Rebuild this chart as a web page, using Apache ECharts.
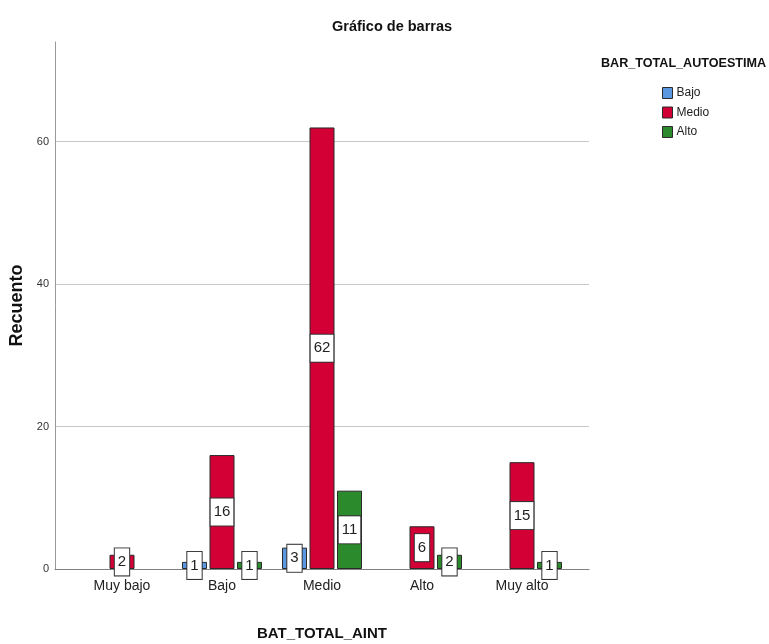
<!DOCTYPE html>
<html>
<head>
<meta charset="utf-8">
<script src="https://cdn.jsdelivr.net/npm/echarts@6/dist/echarts.min.js"></script>
<style>html,body{margin:0;padding:0;background:#fff;}#c{width:769px;height:644px;}</style>
</head>
<body>
<div id="c"></div>
<script>
const categories = ['Muy bajo', 'Bajo', 'Medio', 'Alto', 'Muy alto'];
const seriesNames = ['Bajo', 'Medio', 'Alto'];
const bajoValues = [null, 1, 3, null, null];
const medioValues = [2, 16, 62, 6, 15];
const altoValues = [null, 1, 11, 2, 1];
const yTicks = [0, 20, 40, 60];
const yMax = 74;
const colors = ['#5a97e0', '#d20034', '#2b8a2b'];

const FONT = "'Liberation Sans', Arial, sans-serif";
const chart = echarts.init(document.getElementById('c'), null, {renderer: 'canvas'});

const allValues = [bajoValues, medioValues, altoValues];
const series = seriesNames.map((name, i) => ({
  name: name,
  type: 'bar',
  xAxisIndex: 0,
  yAxisIndex: 0,
  barWidth: 25,
  barGap: '10%',
  data: allValues[i],
  itemStyle: {color: colors[i], borderColor: '#2a2a2a', borderWidth: 1},
  label: {
    show: true,
    position: 'inside',
    fontFamily: FONT,
    fontSize: 15,
    color: '#222',
    backgroundColor: '#fff',
    borderColor: '#333',
    borderWidth: 1,
    padding: [5, 3],
    lineHeight: 17
  },
  emphasis: {disabled: true}
}));

const option = {
  animation: false,
  textStyle: {fontFamily: FONT},
  title: [
    {text: 'Gráfico de barras', left: 327, top: 14,
     textStyle: {fontFamily: FONT, fontSize: 14.5, fontWeight: 'bold', color: '#111'}},
    {text: 'BAR_TOTAL_AUTOESTIMA', left: 596, top: 52,
     textStyle: {fontFamily: FONT, fontSize: 12.6, fontWeight: 'bold', color: '#111'}}
  ],
  legend: {
    orient: 'vertical',
    left: 657,
    top: 82,
    itemWidth: 10,
    itemHeight: 11,
    itemGap: 7.5,
    icon: 'rect',
    data: seriesNames,
    itemStyle: {borderColor: '#2a2a2a', borderWidth: 1},
    textStyle: {fontFamily: FONT, fontSize: 12, color: '#222', padding: [0, 0, 0, -1]}
  },
  grid: [
    {left: 72, right: 197, top: 42, bottom: 75, containLabel: false, outerBoundsMode: 'none'},
    {left: 55, right: 180, top: 42, bottom: 75, containLabel: false, outerBoundsMode: 'none'}
  ],
  xAxis: [
    {
      gridIndex: 0,
      type: 'category',
      data: categories,
      axisLine: {show: false},
      axisTick: {show: false},
      axisLabel: {fontFamily: FONT, fontSize: 14, color: '#222', margin: 10}
    },
    {
      gridIndex: 1,
      type: 'value',
      min: 0,
      max: 1,
      axisLine: {show: true, lineStyle: {color: '#808080', width: 1}},
      axisTick: {show: false},
      axisLabel: {show: false},
      splitLine: {show: false},
      name: 'BAT_TOTAL_AINT',
      nameLocation: 'middle',
      nameGap: 57,
      nameTextStyle: {fontFamily: FONT, fontSize: 15, fontWeight: 'bold', color: '#111'}
    }
  ],
  yAxis: [
    {
      gridIndex: 0,
      type: 'value',
      min: 0,
      max: yMax,
      show: false
    },
    {
      gridIndex: 1,
      type: 'value',
      min: 0,
      max: yMax,
      interval: 20,
      axisLine: {show: true, lineStyle: {color: '#999', width: 1}},
      axisTick: {show: false},
      axisLabel: {customValues: yTicks, fontFamily: FONT, fontSize: 11, color: '#333', margin: 6},
      splitLine: {show: true, lineStyle: {color: ['#c8c8c8', '#c8c8c8', '#c8c8c8', '#c8c8c8', 'rgba(0,0,0,0)'], width: 1}},
      name: 'Recuento',
      nameLocation: 'middle',
      nameGap: 28,
      nameTextStyle: {fontFamily: FONT, fontSize: 18, fontWeight: 'bold', color: '#111'}
    }
  ],
  series: series
};
chart.setOption(option);
</script>
</body>
</html>
